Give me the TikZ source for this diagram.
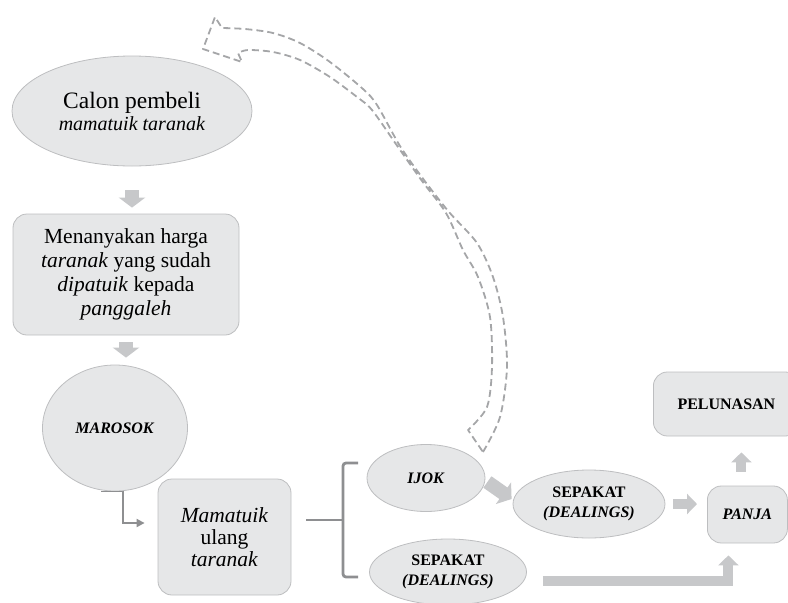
\documentclass[tikz,border=0pt]{standalone}
\usepackage{fontspec}
\setmainfont{Liberation Serif}
\usetikzlibrary{positioning,arrows.meta,shapes.geometric}

\definecolor{boxfill}{HTML}{E6E7E8}
\definecolor{boxline}{HTML}{BDBEC0}
\definecolor{arrowgray}{HTML}{C7C8CA}
\definecolor{linegray}{HTML}{8E8F91}
\definecolor{dashgray}{HTML}{A5A6A8}

\tikzset{
  oval/.style = {ellipse, draw=boxline, fill=boxfill, line width=0.8pt, inner sep=0pt, align=center},
  rbox/.style = {rectangle, rounded corners=14pt, draw=boxline, fill=boxfill, line width=0.8pt, inner sep=0pt, align=center},
  bigtext/.style = {font=\fontsize{21.5}{24}\selectfont},
  captext/.style = {font=\fontsize{16}{20}\selectfont\bfseries},
  fat/.style = {draw=arrowgray, line width=14pt, -{Triangle[width=26pt,length=10pt]}},
  fatsm/.style = {draw=arrowgray, line width=10pt, -{Triangle[width=20pt,length=10pt]}},
  elbow/.style = {draw=linegray, line width=1.8pt, -{Triangle[width=8pt,length=8pt]}},
  bracket/.style = {draw=linegray, line width=2.8pt, rounded corners=3pt},
  ribbon/.style = {draw=dashgray, line width=1.8pt, dash pattern=on 7pt off 4pt, line join=round}
}

\begin{document}
\begin{tikzpicture}[x=1pt, y=-1pt]
  \path[use as bounding box, clip] (0,0) rectangle (788,603);

  \node [oval, minimum width=240, minimum height=110, font=\fontsize{20}{22}\selectfont] (calon) at (132,111)
        {{\fontsize{23.5}{22}\selectfont Calon pembeli}\\\textit{mamatuik taranak}};
  \node [rbox, minimum width=226, minimum height=121, bigtext] (tanya) at (126,274.5)
        {Menanyakan harga\\\textit{taranak} yang sudah\\\textit{dipatuik} kepada\\\textit{panggaleh}};
  \node [oval, minimum width=145, minimum height=126, captext] (marosok) at (115,428) {\textit{MAROSOK}};
  \node [rbox, minimum width=133, minimum height=116, font=\fontsize{21.5}{22}\selectfont] (ulang) at (224.5,537)
        {\textit{Mamatuik}\\ulang\\\textit{taranak}};
  \node [oval, minimum width=118, minimum height=67, captext] (ijok) at (426,478) {\textit{IJOK}};
  \node [oval, minimum width=157, minimum height=66, captext] (sepakatA) at (448,572) {SEPAKAT\\\textit{(DEALINGS)}};
  \node [oval, minimum width=152, minimum height=68, captext] (sepakatB) at (589,504) {SEPAKAT\\\textit{(DEALINGS)}};
  \node [rbox, minimum width=80, minimum height=57, captext, anchor=west] (panja) at (707,514.5) {\textit{PANJA}};
  \node [rbox, minimum width=146, minimum height=64, captext, anchor=west] (lunas) at (653,404) {PELUNASAN};

  % block arrows
  \draw [fat, shorten <=24pt, shorten >=6pt] (calon.south) -- (calon.south |- tanya.north);
  \draw [fat, shorten <=7pt, shorten >=7pt] (tanya.south) -- (tanya.south |- marosok.north);
  \draw [fat] ([xshift=2pt,yshift=-4pt]ijok.east) -- ([xshift=-1pt,yshift=5pt]sepakatB.west);
  \draw [fatsm, shorten <=8pt, shorten >=10pt] (sepakatB.east) -- (sepakatB.east -| panja.west);
  \draw [fatsm, shorten <=14pt, shorten >=16pt] ([xshift=-6pt]panja.north) -- ([xshift=-6pt]panja.north |- lunas.south);
  \draw [fatsm, line join=miter] ([xshift=16pt,yshift=-9pt]sepakatA.east) -| ([xshift=-19pt,yshift=-12pt]panja.south);

  % elbow and bracket
  \draw [elbow] ([xshift=-14pt]marosok.south) -- ++(22,0) |- ([xshift=-13pt,yshift=14pt]ulang.west);
  \coordinate (knot) at (342,520);
  \draw [bracket] ([xshift=15pt,yshift=17pt]ulang.east) -- (knot);
  \draw [bracket] (358,463) -- (343,463) -- (343,577) -- (358,577);

  % dashed return arrow from IJOK
  \draw [ribbon] (483,452)
        -- plot [smooth, tension=0.5] coordinates {(483,452) (500,417) (507,367) (503,317) (493,277) (477,243) (449,212) (424,180) (400,146) (377,105) (363,89) (330,62) (300,43) (273,33) (245,29) (222,28)}
        -- (215,17) -- (203,49) -- (242,62) -- (238,53)
        -- plot [smooth, tension=0.5] coordinates {(238,53) (248,50) (273,52) (300,60) (330,77) (357,97) (372,110) (398,147) (422,181) (446,213) (463,250) (478,277) (490,317) (492,367) (487,407) (468,430)}
        -- cycle;
\end{tikzpicture}
\end{document}
